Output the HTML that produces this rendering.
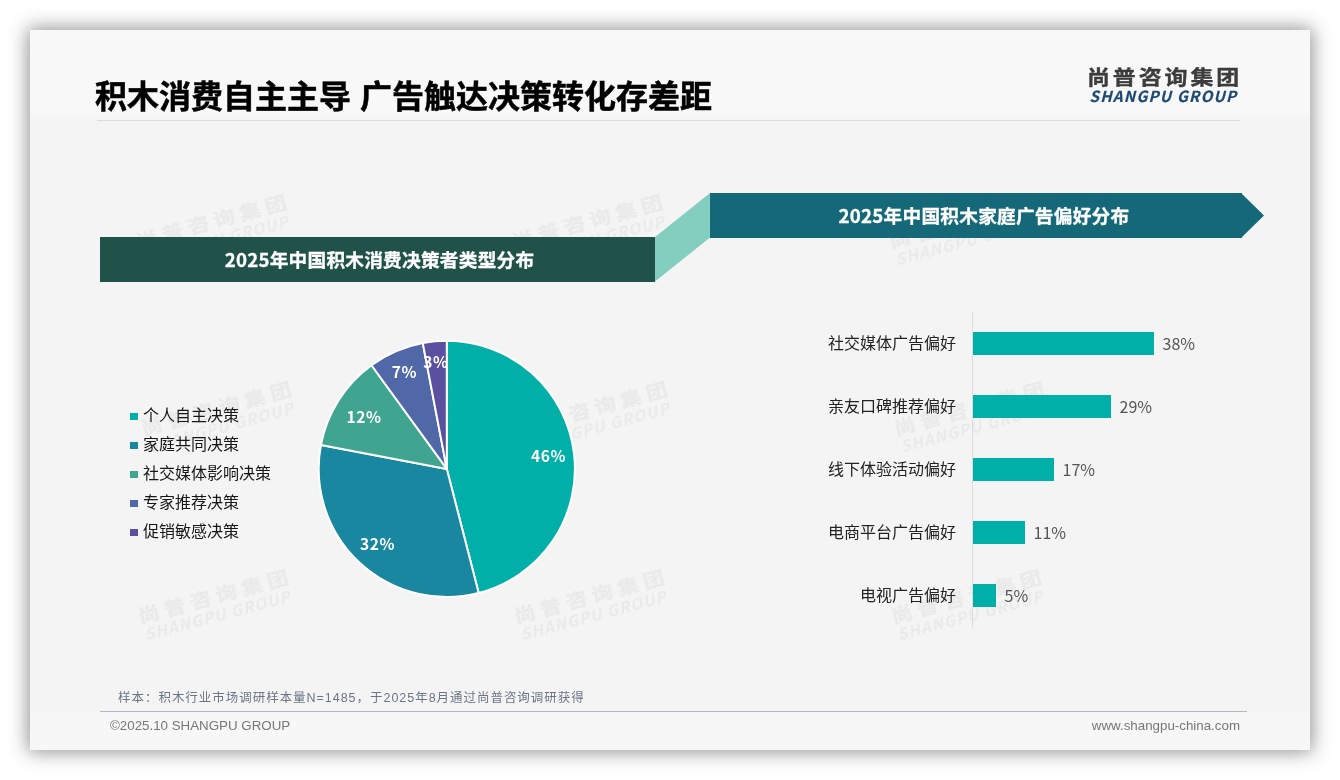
<!DOCTYPE html>
<html lang="zh-CN">
<head>
<meta charset="utf-8">
<title>积木消费自主主导 广告触达决策转化存差距</title>
<style>
  html, body { margin: 0; padding: 0; }
  body {
    width: 1340px; height: 780px; overflow: hidden; position: relative;
    background: #ffffff;
    font-family: "Liberation Sans", "Noto Sans CJK SC", sans-serif;
  }
  .abs { position: absolute; white-space: nowrap; }
  #card {
    position: absolute; left: 30px; top: 30px; width: 1280px; height: 720px;
    background: #f4f4f4;
    box-shadow: 0 0 18px 2px rgba(0,0,0,0.43);
    overflow: hidden;
  }
  /* everything inside #card is positioned in page coordinates minus 30 */
  #inner { position: absolute; left: -30px; top: -30px; width: 1340px; height: 780px; }
  #hdr { position: absolute; left: 30px; top: 30px; width: 1280px; height: 90px; background: linear-gradient(to bottom, #f8f8f8 0, #f8f8f8 84px, #f4f4f4 90px); }
  #ftr { position: absolute; left: 30px; top: 712px; width: 1280px; height: 38px; background: #f7f7f7; }
  #hline { position: absolute; left: 97px; top: 120px; width: 1143px; height: 1px; background: #dcdcdc; }
  #fline { position: absolute; left: 100px; top: 711px; width: 1147px; height: 1px; background: #adb8c6; }

  #title {
    left: 95px; top: 74px; font-size: 32px; line-height: 46px; font-weight: 700; color: #000; -webkit-text-stroke: 0.5px #000;
    font-family: "Liberation Sans", "Noto Sans CJK SC", sans-serif;
  }
  #logo-cn { left: 1086.8px; top: 62.5px; font-size: 20px; line-height: 30px; font-weight: 700; color: #3c3c3c; letter-spacing: 2.5px; -webkit-text-stroke: 0.35px #3c3c3c; transform: scaleX(1.15); transform-origin: 0 0; }
  #logo-en { left: 1089.5px; top: 84.5px; font-size: 15.2px; line-height: 20px; font-weight: 700; font-style: italic; color: #1d4a72; letter-spacing: 1.2px; -webkit-text-stroke: 0.2px #1d4a72; font-family: "Noto Sans CJK SC", "Liberation Sans", sans-serif; }

  .wm { position: absolute; width: 166px; height: 35.4px; transform: rotate(-15deg); color: #eaeaea; white-space: nowrap; font-family: "Noto Sans CJK SC", "Liberation Sans", sans-serif; }
  .wm b { display: block; font-size: 18.8px; line-height: 18.2px; letter-spacing: 4.4px; position: relative; top: -2px; transform: scaleX(1.15); transform-origin: 0 50%; font-weight: 700; -webkit-text-stroke: 0.4px #eaeaea; }
  .wm i { display: block; font-size: 15.7px; line-height: 17.2px; letter-spacing: 1.1px; font-weight: 700; padding-left: 1.5px; }

  .banner { position: absolute; color: #fff; font-weight: 700; font-size: 18.67px; letter-spacing: 0.25px; box-sizing: border-box; -webkit-text-stroke: 0.3px #fff; font-family: "Noto Sans CJK SC", "Liberation Sans", sans-serif; text-align: center; white-space: nowrap; }
  #ban-l { left: 100px; top: 237px; width: 555px; height: 45px; line-height: 43px; padding-left: 4px; background: #20524a; }
  #ban-r { left: 710px; top: 193px; width: 532px; height: 45px; line-height: 43px; padding-left: 16px; background: #146878; }

  .leg { font-size: 16px; line-height: 20px; color: #161616; }
  .leg span { display: inline-block; width: 8px; height: 7px; margin-right: 5px; vertical-align: 1px; }

  .blab { font-size: 16px; line-height: 20px; color: #222; text-align: right; width: 200px; left: 756px; }
  .bar { position: absolute; left: 973px; height: 23px; background: #00b0a8; }
  .bval { font-size: 16px; line-height: 20px; color: #555; font-family: "Noto Sans CJK SC", "Liberation Sans", sans-serif; }

  #note { left: 118px; top: 688.5px; font-size: 12.5px; line-height: 18px; letter-spacing: 0.97px; color: #6b7585; }
  #copy { left: 110px; top: 717px; font-size: 13.33px; line-height: 18px; color: #777; }
  #site { right: 100px; top: 717px; font-size: 13.33px; line-height: 18px; color: #777; }
</style>
</head>
<body>
<div id="card"><div id="inner">
  <div id="hdr"></div>
  <div id="ftr"></div>
  <div id="hline"></div>
  <div id="fline"></div>

  <!-- WATERMARKS -->
  <div class="wm" style="left:136.0px;top:211.8px"><b>尚普咨询集团</b><i>SHANGPU GROUP</i></div>
  <div class="wm" style="left:512.4px;top:211.8px"><b>尚普咨询集团</b><i>SHANGPU GROUP</i></div>
  <div class="wm" style="left:889.0px;top:211.8px"><b>尚普咨询集团</b><i>SHANGPU GROUP</i></div>
  <div class="wm" style="left:140.5px;top:399.3px"><b>尚普咨询集团</b><i>SHANGPU GROUP</i></div>
  <div class="wm" style="left:516.9px;top:399.3px"><b>尚普咨询集团</b><i>SHANGPU GROUP</i></div>
  <div class="wm" style="left:893.5px;top:399.3px"><b>尚普咨询集团</b><i>SHANGPU GROUP</i></div>
  <div class="wm" style="left:137.5px;top:587.3px"><b>尚普咨询集团</b><i>SHANGPU GROUP</i></div>
  <div class="wm" style="left:513.9px;top:587.3px"><b>尚普咨询集团</b><i>SHANGPU GROUP</i></div>
  <div class="wm" style="left:890.5px;top:587.3px"><b>尚普咨询集团</b><i>SHANGPU GROUP</i></div>

  <!-- HEADER -->
  <div class="abs" id="title">积木消费自主主导 广告触达决策转化存差距</div>
  <div class="abs" id="logo-cn">尚普咨询集团</div>
  <div class="abs" id="logo-en">SHANGPU GROUP</div>

  <!-- BANNERS -->
  <svg class="abs" style="left:0;top:0" width="1340" height="780" viewBox="0 0 1340 780">
    <polygon points="654.5,237.5 710,193 710,237.5 655,281.5" fill="#84cebf"/>
    <polygon points="1241,193 1264,215.5 1241,238" fill="#146878"/>
  </svg>
  <div class="banner" id="ban-l">2025年中国积木消费决策者类型分布</div>
  <div class="banner" id="ban-r">2025年中国积木家庭广告偏好分布</div>

  <!-- PIE -->
  <svg class="abs" style="left:0;top:0" width="1340" height="780" viewBox="0 0 1340 780">
   <g stroke="#ffffff" stroke-width="2" stroke-linejoin="round">
    <path d="M446.8,468.9 L446.80,340.80 A128.1,128.1 0 0 1 478.66,592.98 Z" fill="#00b0a8"/>
    <path d="M446.8,468.9 L478.66,592.98 A128.1,128.1 0 0 1 320.97,444.90 Z" fill="#1987a0"/>
    <path d="M446.8,468.9 L320.97,444.90 A128.1,128.1 0 0 1 371.50,365.26 Z" fill="#40a590"/>
    <path d="M446.8,468.9 L371.50,365.26 A128.1,128.1 0 0 1 422.80,343.07 Z" fill="#5068a8"/>
    <path d="M446.8,468.9 L422.80,343.07 A128.1,128.1 0 0 1 446.80,340.80 Z" fill="#5a50a0"/>
   </g>
   <g fill="#ffffff" font-family="'Noto Sans CJK SC', 'Liberation Sans', sans-serif" font-weight="700" font-size="15.6" letter-spacing="0.6">
    <text x="548.5" y="461.5" text-anchor="middle">46%</text>
    <text x="377.5" y="550.0" text-anchor="middle">32%</text>
    <text x="364" y="423.0" text-anchor="middle">12%</text>
    <text x="404.5" y="378.0" text-anchor="middle">7%</text>
    <text x="436" y="367.5" text-anchor="middle">3%</text>
   </g>
  </svg>
  <div class="abs leg" style="left:130px;top:406.1px"><span style="background:#00b0a8"></span>个人自主决策</div>
  <div class="abs leg" style="left:130px;top:435.0px"><span style="background:#1987a0"></span>家庭共同决策</div>
  <div class="abs leg" style="left:130px;top:463.8px"><span style="background:#40a590"></span>社交媒体影响决策</div>
  <div class="abs leg" style="left:130px;top:492.7px"><span style="background:#5068a8"></span>专家推荐决策</div>
  <div class="abs leg" style="left:130px;top:521.5px"><span style="background:#5a50a0"></span>促销敏感决策</div>

  <!-- BARS -->
  <div class="abs" style="left:972px;top:312px;width:1px;height:316px;background:#dcdcdc"></div>
  <div class="abs blab" style="top:334px">社交媒体广告偏好</div>
  <div class="bar" style="top:332px;width:181px"></div>
  <div class="abs bval" style="left:1162.5px;top:333px">38%</div>
  <div class="abs blab" style="top:397px">亲友口碑推荐偏好</div>
  <div class="bar" style="top:395px;width:138px"></div>
  <div class="abs bval" style="left:1119.5px;top:396px">29%</div>
  <div class="abs blab" style="top:460px">线下体验活动偏好</div>
  <div class="bar" style="top:458px;width:81px"></div>
  <div class="abs bval" style="left:1062.5px;top:459px">17%</div>
  <div class="abs blab" style="top:523px">电商平台广告偏好</div>
  <div class="bar" style="top:521px;width:52px"></div>
  <div class="abs bval" style="left:1033.5px;top:522px">11%</div>
  <div class="abs blab" style="top:586px">电视广告偏好</div>
  <div class="bar" style="top:584px;width:23px"></div>
  <div class="abs bval" style="left:1004.5px;top:585px">5%</div>

  <!-- FOOTER -->
  <div class="abs" id="note">样本：积木行业市场调研样本量N=1485，于2025年8月通过尚普咨询调研获得</div>
  <div class="abs" id="copy">©2025.10 SHANGPU GROUP</div>
  <div class="abs" id="site">www.shangpu-china.com</div>
</div></div>
</body>
</html>
